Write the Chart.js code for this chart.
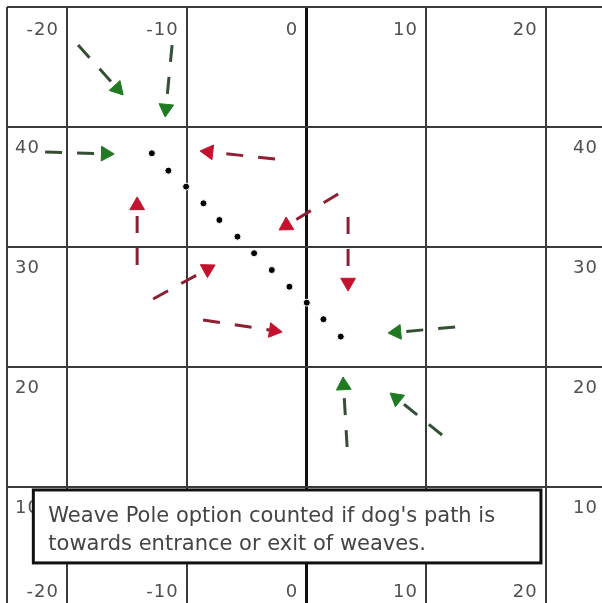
<!DOCTYPE html>
<html lang="en">
<head>
  <meta charset="UTF-8" />
  <title>Weave Pole Approaches</title>
  <script src="https://cdn.jsdelivr.net/npm/chart.js"></script>
  <style>
    html, body { margin: 0; padding: 0; background: #fff; }
    #wrap { width: 602px; height: 603px; }
  </style>
</head>
<body>
  <div id="wrap"><canvas id="course" width="602" height="603"></canvas></div>

  <script>
    // grid lines and tick labels (course coordinates)
    const xGrid = [-25, -20, -10, 0, 10, 20];
    const yGrid = [10, 20, 30, 40, 50];
    const xTickLabels = [-20, -10, 0, 10, 20];
    const yTickLabels = [10, 20, 30, 40];

    // weave poles
    const poleX = [-12.9, -11.52, -10.04, -8.59, -7.26, -5.75, -4.36, -2.88, -1.41, 0.04, 1.43, 2.88];
    const poleY = [37.81, 36.36, 35.03, 33.64, 32.25, 30.86, 29.48, 28.08, 26.69, 25.36, 23.98, 22.53];

    // green arrows (from -> to)
    const greenFrom = [[-19.06, 46.83], [-11.21, 46.83], [-21.82, 37.92], [12.43, 23.33], [3.41, 13.33], [11.34, 14.33]];
    const greenTo   = [[-15.30, 42.67], [-11.79, 40.83], [-16.05, 37.75], [6.83, 22.83], [3.07, 19.17], [7.00, 17.83]];

    // red arrows (from -> to)
    const redFrom = [[-2.61, 37.33], [-14.13, 28.5], [-12.79, 25.67], [-8.62, 23.92], [2.66, 34.42], [3.49, 32.5]];
    const redTo   = [[-8.87, 38.0], [-14.13, 34.17], [-7.62, 28.5], [-2.02, 22.92], [-2.27, 31.42], [3.49, 26.33]];

    const noteLines = ["Weave Pole option counted if dog's path is", "towards entrance or exit of weaves."];

    const HEAD = 8.5;      // arrowhead radius in px
    const PX_PER_UNIT = 12;

    function arrow(from, to, lineColor, headColor) {
      const dx = to[0] - from[0], dy = to[1] - from[1];
      const len = Math.hypot(dx, dy);
      const back = HEAD / PX_PER_UNIT;
      const tip = { x: to[0] - dx / len * back, y: to[1] - dy / len * back };
      const angle = Math.atan2(dx, dy) * 180 / Math.PI;
      return {
        data: [{ x: from[0], y: from[1] }, tip],
        showLine: true,
        borderColor: lineColor,
        borderWidth: 3,
        borderDash: [17, 15],
        borderCapStyle: 'butt',
        pointStyle: 'triangle',
        pointRadius: [0, HEAD],
        pointRotation: [0, angle],
        pointBackgroundColor: headColor,
        pointBorderColor: headColor,
        pointBorderWidth: 1
      };
    }

    const datasets = [];
    greenFrom.forEach((f, i) => datasets.push(arrow(f, greenTo[i], '#344f34', '#1f7a22')));
    redFrom.forEach((f, i) => datasets.push(arrow(f, redTo[i], '#8e1f33', '#c4122e')));
    datasets.push({
      data: poleX.map((x, i) => ({ x: x, y: poleY[i] })),
      pointStyle: 'circle',
      pointRadius: 3.5,
      pointBackgroundColor: '#000',
      pointBorderColor: '#fff',
      pointBorderWidth: 1
    });

    const gridLabels = {
      id: 'gridLabels',
      beforeDatasetsDraw(chart) {
        const { ctx, chartArea, scales: { x, y } } = chart;
        ctx.save();
        ctx.font = '18px "DejaVu Sans"';
        ctx.letterSpacing = '1px';
        ctx.fillStyle = '#505050';
        ctx.textBaseline = 'alphabetic';
        ctx.textAlign = 'right';
        xTickLabels.forEach(v => {
          const px = x.getPixelForValue(v) - 8;
          ctx.fillText(String(v), px, chartArea.top + 28);
          ctx.fillText(String(v), px, chartArea.bottom - 6);
        });
        yTickLabels.forEach(v => {
          const py = y.getPixelForValue(v) + 26;
          ctx.textAlign = 'left';
          ctx.fillText(String(v), chartArea.left + 8, py);
          ctx.textAlign = 'right';
          ctx.fillText(String(v), chartArea.right - 4, py);
        });
        ctx.restore();
      }
    };

    const noteBox = { x1: -22.8, y1: 9.75, x2: 19.6, y2: 3.67 };
    const note = {
      id: 'note',
      afterDraw(chart) {
        const { ctx, scales: { x, y } } = chart;
        const l = x.getPixelForValue(noteBox.x1), r = x.getPixelForValue(noteBox.x2);
        const t = y.getPixelForValue(noteBox.y1), b = y.getPixelForValue(noteBox.y2);
        ctx.save();
        ctx.fillStyle = '#fff';
        ctx.fillRect(l, t, r - l, b - t);
        ctx.strokeStyle = '#111';
        ctx.lineWidth = 3;
        ctx.strokeRect(l, t, r - l, b - t);
        ctx.font = '21px "DejaVu Sans"';
        ctx.fillStyle = '#444';
        ctx.textAlign = 'left';
        noteLines.forEach((s, i) => ctx.fillText(s, l + 15, t + 32 + i * 28));
        ctx.restore();
      }
    };

    new Chart(document.getElementById('course'), {
      type: 'scatter',
      data: { datasets: datasets },
      options: {
        responsive: false,
        animation: false,
        layout: { autoPadding: false, padding: { left: 7, top: 7, right: 0, bottom: 0 } },
        plugins: { legend: { display: false }, tooltip: { enabled: false } },
        scales: {
          x: {
            min: -25, max: 24.7,
            afterBuildTicks: s => { s.ticks = xGrid.map(v => ({ value: v })); },
            ticks: { display: false },
            border: { display: false },
            grid: {
              drawTicks: false,
              color: c => c.tick && c.tick.value === 0 ? '#111' : '#3a3a3a',
              lineWidth: c => c.tick && c.tick.value === 0 ? 3 : 2
            }
          },
          y: {
            min: 0.33, max: 50,
            afterBuildTicks: s => { s.ticks = yGrid.map(v => ({ value: v })); },
            ticks: { display: false },
            border: { display: false },
            grid: { drawTicks: false, color: '#3a3a3a', lineWidth: 2 }
          }
        }
      },
      plugins: [gridLabels, note]
    });
  </script>
</body>
</html>
